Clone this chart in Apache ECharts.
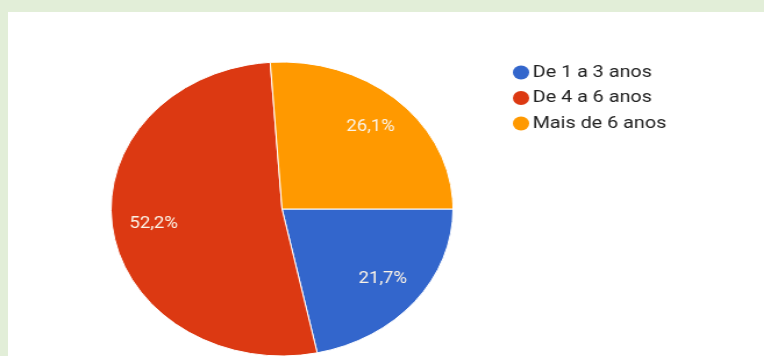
<!DOCTYPE html>
<html>
<head>
<meta charset="utf-8">
<script src="https://cdn.jsdelivr.net/npm/echarts@6/dist/echarts.min.js"></script>
<style>
  html, body { margin: 0; padding: 0; width: 764px; height: 356px; overflow: hidden; background: #e2eed8; }
  #panel { position: absolute; left: 8px; top: 12px; right: 0; bottom: 0; background: #ffffff; }
  /* the pie is drawn slightly wider than tall, so the chart is stretched horizontally */
  #chart { position: absolute; left: 0; top: 0; width: 657px; height: 356px; transform: scaleX(1.163); transform-origin: 0 0; }
</style>
</head>
<body>
<div id="panel"></div>
<div id="chart"></div>
<script>
const categories = ['De 1 a 3 anos', 'De 4 a 6 anos', 'Mais de 6 anos'];
const values = [21.7, 52.2, 26.1];
const colors = ['#3366cc', '#dc3912', '#ff9900'];

const pieData = categories.map((name, i) => ({ name, value: values[i] }));
const fmt = v => v.toFixed(1).replace('.', ',') + '%';

const chart = echarts.init(document.getElementById('chart'), null, { renderer: 'canvas' });
chart.setOption({
  animation: false,
  color: colors,
  legend: {
    orient: 'vertical',
    left: 436,
    top: 58,
    icon: 'circle',
    itemWidth: 14,
    itemHeight: 14,
    itemGap: 6.5,
    itemStyle: { borderWidth: 0 },
    textStyle: { fontFamily: 'Roboto', fontSize: 17, color: '#222222', lineHeight: 19, padding: [0, 0, 0, -2] },
    data: categories
  },
  series: [
    {
      type: 'pie',
      center: [242.5, 209],
      radius: [0, 147],
      startAngle: 0,
      clockwise: true,
      silent: true,
      label: { show: false },
      labelLine: { show: false },
      itemStyle: { borderColor: '#ffffff', borderWidth: 1 },
      data: pieData
    },
    {
      // label ring: places the percentages about three quarters of the way out
      type: 'pie',
      center: [242.5, 209],
      radius: [70, 147],
      startAngle: 0,
      clockwise: true,
      silent: true,
      itemStyle: { color: 'rgba(0,0,0,0)' },
      label: {
        show: true,
        position: 'inside',
        fontFamily: 'Roboto',
        fontSize: 16,
        color: '#fbf3e6',
        formatter: p => fmt(p.value)
      },
      labelLine: { show: false },
      data: pieData
    }
  ]
});
</script>
</body>
</html>
